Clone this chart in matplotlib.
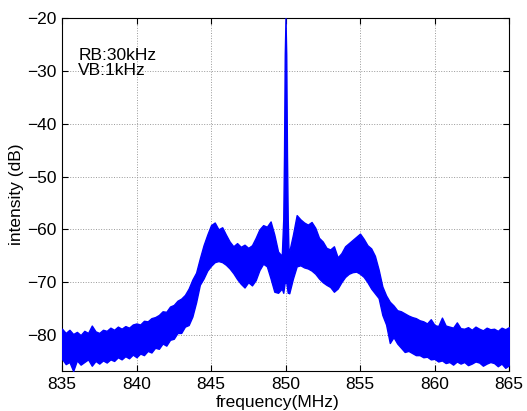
import numpy as np
import matplotlib
matplotlib.use("Agg")
import matplotlib.pyplot as plt

plt.rcParams['font.family'] = ['Liberation Sans', 'DejaVu Sans']

# ---- data (dB) ----
freq_left = np.round(np.arange(835.0, 849.76, 0.25), 3)
upper_left = [
    -78.8, -79.6, -79.0, -79.8, -79.4, -80.0, -79.2, -79.6,
    -78.2, -79.3, -79.6, -79.0, -79.2, -78.6, -79.0, -78.4,
    -78.8, -78.3, -78.6, -78.0, -77.8, -78.0, -77.3, -77.4,
    -76.8, -76.6, -76.2, -75.5, -75.6, -74.6, -74.3, -73.5,
    -73.1, -72.4, -71.2, -69.5, -68.2, -65.5, -63.0, -61.0,
    -59.2, -58.7, -60.0, -59.6, -61.0, -62.3, -63.2, -62.6,
    -63.3, -62.9, -63.5, -63.0, -61.6, -60.0, -59.2, -59.5,
    -58.5, -61.0, -64.2, -65.0]
lower_left = [
    -84.5, -85.5, -85.1, -86.8, -84.8, -85.6, -85.1, -84.6,
    -85.8, -84.9, -85.4, -84.8, -85.2, -84.6, -84.9, -84.2,
    -84.6, -84.0, -84.4, -83.7, -84.2, -83.5, -83.8, -83.0,
    -83.3, -82.4, -82.6, -81.6, -82.0, -80.9, -80.7, -79.6,
    -79.6, -78.4, -78.1, -76.5, -73.8, -70.5, -69.3, -67.8,
    -66.9, -66.2, -66.0, -66.2, -66.7, -67.4, -68.3, -69.4,
    -70.3, -71.0, -70.0, -70.6, -69.6, -67.7, -66.5, -67.0,
    -69.3, -71.8, -72.0, -71.2]

freq_peak = [849.85, 849.90, 849.95, 850.00, 850.05, 850.10, 850.15, 850.20]
upper_peak = [-58.0, -46.0, -27.0, -20.0, -27.0, -46.0, -58.0, -64.0]
lower_peak = [-72.0, -71.0, -70.0, -70.0, -70.0, -71.0, -72.0, -72.0]

freq_right = np.round(np.arange(850.25, 865.01, 0.25), 3)
upper_right = [
    -64.2, -61.0, -57.3, -58.1, -58.7, -59.1, -58.6, -59.7,
    -61.6, -62.3, -63.5, -63.8, -63.2, -65.3, -64.5, -63.2,
    -62.6, -62.0, -61.4, -60.8, -61.8, -63.0, -63.6, -65.0,
    -67.6, -70.8, -72.5, -73.7, -74.4, -75.3, -75.5, -75.9,
    -76.3, -76.6, -76.8, -77.2, -77.4, -77.8, -77.0, -78.1,
    -78.3, -76.7, -78.2, -78.4, -78.6, -77.6, -78.7, -78.8,
    -78.5, -79.0, -78.4, -78.8, -79.1, -78.6, -78.9, -78.8,
    -79.2, -78.6, -78.9, -78.5]
lower_right = [
    -72.1, -69.3, -67.0, -66.8, -67.2, -67.4, -67.8, -68.4,
    -69.3, -70.0, -70.5, -70.9, -71.8, -71.2, -70.0, -69.0,
    -68.4, -68.1, -68.0, -68.4, -69.0, -70.0, -71.2, -72.1,
    -73.0, -76.2, -78.0, -81.5, -80.4, -81.6, -82.4, -83.2,
    -83.0, -83.4, -83.8, -83.8, -84.2, -84.1, -84.6, -84.5,
    -85.0, -84.8, -85.3, -85.1, -85.6, -85.0, -85.4, -85.1,
    -85.7, -85.4, -85.0, -85.2, -85.8, -85.4, -85.1, -85.3,
    -85.9, -85.4, -86.2, -85.7]

xticks = [835, 840, 845, 850, 855, 860, 865]
yticks = [-80, -70, -60, -50, -40, -30, -20]
annotation = "RB:30kHz\nVB:1kHz"

freq = np.concatenate([freq_left, freq_peak, freq_right])
upper = np.concatenate([upper_left, upper_peak, upper_right])
lower = np.concatenate([lower_left, lower_peak, lower_right])

W, H = 527, 411
fig = plt.figure(figsize=(W / 100, H / 100), dpi=100)
ax = fig.add_axes([62 / W, 1 - 371 / H, (509 - 62) / W, (371 - 18) / H])

blue = '#0000FF'
ax.fill_between(freq, lower, upper, color=blue, linewidth=1.0,
                edgecolor=blue, zorder=3)

ax.set_xlim(835, 865)
ax.set_ylim(-86.8, -20)
ax.set_xticks(xticks)
ax.set_yticks(yticks)
ax.grid(True, linestyle=':', color='0.6', linewidth=0.7)
ax.tick_params(direction='in', length=4, width=0.8, top=True, right=True,
               labelsize=12.5, pad=4)
for s in ax.spines.values():
    s.set_linewidth(0.8)
    s.set_color('black')

ax.set_xlabel('frequency(MHz)', fontsize=12.5, labelpad=0)
ax.xaxis.set_label_coords(0.483, -0.068, transform=ax.transAxes)
ax.set_ylabel('intensity (dB)', fontsize=12.5, labelpad=2)

ax.text(836.1, -25.6, annotation, fontsize=12.5, va='top', ha='left',
        linespacing=1.05)

fig.savefig('out.png', dpi=100)
